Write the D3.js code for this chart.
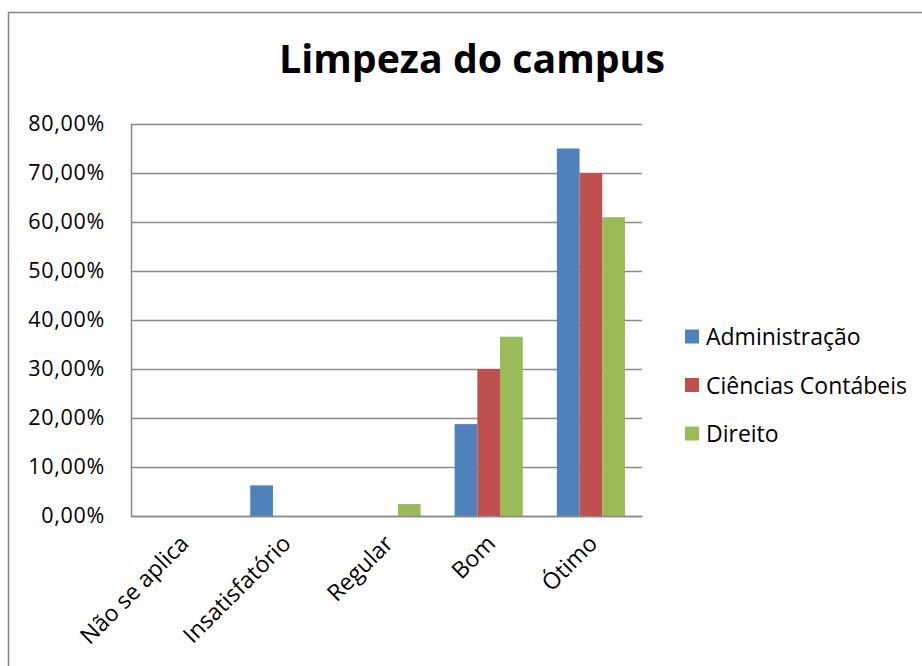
<!DOCTYPE html>
<html>
<head>
<meta charset="utf-8">
<script src="https://cdn.jsdelivr.net/npm/d3@7"></script>
<style>
  html, body { margin: 0; padding: 0; background: #fff; }
  svg { display: block; }
</style>
</head>
<body>
<div id="chart"></div>
<script>
// Données
const categories = ['Não se aplica', 'Insatisfatório', 'Regular', 'Bom', 'Ótimo'];
const seriesNames = ['Administração', 'Ciências Contábeis', 'Direito'];
const administracao = [0, 6.25, 0, 18.75, 75];
const cienciasContabeis = [0, 0, 0, 30, 70];
const direito = [0, 0, 2.44, 36.59, 60.98];
const yTicks = [0, 10, 20, 30, 40, 50, 60, 70, 80];
const colors = ['#4F81BD', '#C0504D', '#9BBB59'];

const seriesValues = [administracao, cienciasContabeis, direito];

const W = 922, H = 666;
const font = '"Open Sans", "Noto Sans", sans-serif';

const svg = d3.select('#chart').append('svg')
    .attr('width', W)
    .attr('height', H);

// Cadre extérieur
svg.append('rect')
    .attr('x', 8.5).attr('y', 12.5)
    .attr('width', W + 20).attr('height', H + 20)
    .attr('fill', '#fff')
    .attr('stroke', '#868686')
    .attr('stroke-width', 1.5);

// Zone de tracé
const plot = { left: 131, right: 642, top: 124, bottom: 516 };

const x = d3.scaleBand()
    .domain(categories)
    .range([plot.left, plot.right]);

const x1 = d3.scaleBand()
    .domain(seriesNames)
    .range([0, x.bandwidth()])
    .paddingInner(0)
    .paddingOuter(0.75); // groupe de ~68px sur ~102px

const y = d3.scaleLinear()
    .domain([0, 80])
    .range([plot.bottom, plot.top]);

// Titre
const title = svg.append('text')
    .attr('x', 472)
    .attr('y', 73)
    .attr('text-anchor', 'middle')
    .style('font-family', font)
    .style('font-weight', '700')
    .style('font-size', '36px')
    .style('fill', '#000')
    .text('Limpeza do campus');
// ajuster la taille pour retrouver la largeur du titre
const tw = title.node().getComputedTextLength();
title.style('font-size', (36 * 386 / tw).toFixed(2) + 'px');

// Grille horizontale
svg.append('g')
    .selectAll('line')
    .data(yTicks)
    .join('line')
    .attr('x1', plot.left)
    .attr('x2', plot.right)
    .attr('y1', d => Math.round(y(d)) + 0.5)
    .attr('y2', d => Math.round(y(d)) + 0.5)
    .attr('stroke', '#8a8a8a')
    .attr('stroke-width', 1.5);

// Axe Y
const yAxis = svg.append('g')
    .attr('transform', `translate(${plot.left},0)`)
    .call(d3.axisLeft(y).tickValues(yTicks).tickSize(0).tickPadding(26)
        .tickFormat(d => d3.format('.2f')(d).replace('.', ',') + '%'));
yAxis.select('.domain').attr('stroke', '#8a8a8a').attr('stroke-width', 1.5);
yAxis.selectAll('text')
    .style('font-family', font)
    .style('font-size', '21.5px')
    .style('letter-spacing', '0.7px')
    .style('fill', '#000');

// Barres
const groups = svg.append('g')
    .selectAll('g')
    .data(categories)
    .join('g')
    .attr('transform', c => `translate(${x(c)},0)`);

groups.selectAll('rect')
    .data((c, i) => seriesNames.map((s, j) => ({ s, j, v: seriesValues[j][i] })))
    .join('rect')
    .filter(d => d.v > 0)
    .attr('x', d => x1(d.s))
    .attr('width', x1.bandwidth())
    .attr('y', d => y(d.v))
    .attr('height', d => y(0) - y(d.v))
    .attr('fill', d => colors[d.j]);

// Axe X
const xAxis = svg.append('g')
    .attr('transform', `translate(0,${plot.bottom})`)
    .call(d3.axisBottom(x).tickSize(0).tickPadding(0));
xAxis.select('.domain').attr('stroke', '#8a8a8a').attr('stroke-width', 1.5);
xAxis.selectAll('text')
    .attr('text-anchor', 'end')
    .attr('dy', 0)
    .attr('transform', 'translate(8,29) rotate(-45)')
    .style('font-family', font)
    .style('font-size', '23px')
    .style('fill', '#000');

// Légende
const legend = svg.append('g');
seriesNames.forEach((s, i) => {
    const cy = 336.5 + i * 48.5;
    legend.append('rect')
        .attr('x', 685).attr('y', cy - 7)
        .attr('width', 14).attr('height', 14)
        .attr('fill', colors[i]);
    legend.append('text')
        .attr('x', 706)
        .attr('y', cy + 8.5)
        .style('font-family', font)
        .style('font-size', '23px')
        .style('fill', '#000')
        .text(s);
});
</script>
</body>
</html>
